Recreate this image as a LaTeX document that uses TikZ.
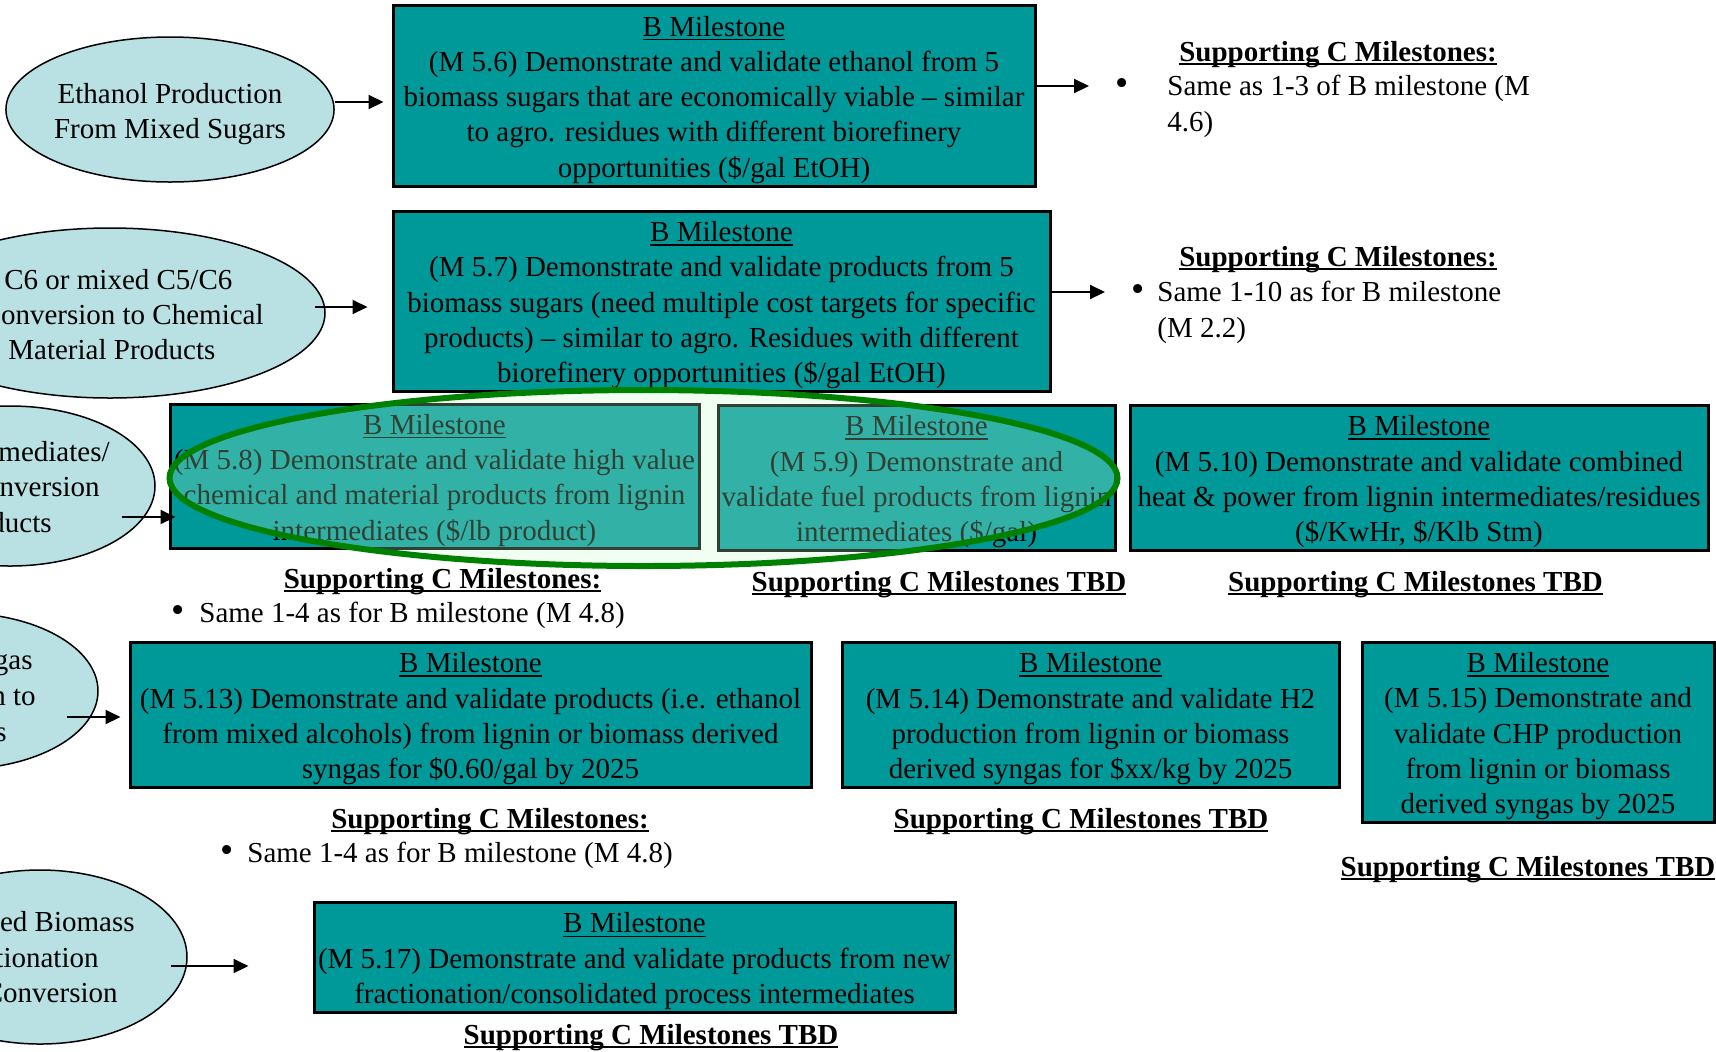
\documentclass[tikz,border=0pt]{standalone}
\usepackage{fontspec}
\setmainfont{Liberation Serif}
\usetikzlibrary{arrows.meta,shapes.geometric}
\definecolor{tealbox}{HTML}{009999}
\definecolor{ellfill}{HTML}{B9E0E3}
\definecolor{hlgreen}{HTML}{008000}
\definecolor{hlfill}{HTML}{C8FFD2}
\newsavebox\myulbox
\newcommand{\ulthin}[1]{\rule{0pt}{14.3pt}\sbox\myulbox{#1}\rlap{\rule[-2pt]{\wd\myulbox}{0.7pt}}\usebox\myulbox}
\newcommand{\ulbold}[1]{\sbox\myulbox{\bfseries #1}\rlap{\rule[-2.2pt]{\wd\myulbox}{1pt}}\usebox\myulbox}
\newcommand{\bigbul}{\scalebox{1.3}{\textbullet}}
\begin{document}
\begin{tikzpicture}[x=0.5pt,y=-0.5pt,
  every node/.style={font=\fontsize{14.5pt}{17.65pt}\selectfont, inner sep=0pt},
  mbox/.style={draw=black, line width=1.5pt, fill=tealbox, align=center, inner sep=0pt},
  ell/.style={ellipse, draw=black, line width=0.75pt, fill=ellfill, inner sep=0pt},
  arr/.style={-{Triangle[length=7.5pt,width=7pt]}, line width=1pt},
  frag/.style={anchor=base east},
  fragw/.style={anchor=base west},
  sup/.style={anchor=base}]
\useasboundingbox (0,0) rectangle (1716,1051);
\fill[white] (0,0) rectangle (1716,1051);
\clip (0,0) rectangle (1716,1051);

% ellipses
\node[ell, minimum width=161pt, minimum height=72.5pt, align=center] (e1) at (170,109.5) {\rule{0pt}{14.3pt}Ethanol Production\\From Mixed Sugars};
\node[ell, minimum width=215pt, minimum height=85pt] (e2) at (110,313) {};
\node[ell, minimum width=145pt, minimum height=80pt] (e3) at (10,486) {};
\node[ell, minimum width=138pt, minimum height=78pt] (e4) at (-40,691) {};
\node[ell, minimum width=147pt, minimum height=87pt] (e5) at (40,957) {};

\node[fragw] (e2a) at (4,289) {C6 or mixed C5/C6};
\node[frag] (e2b) at (264,324) {onversion to Chemical};
\node[fragw] (e2c) at (8,359) {Material Products};
\node[frag] (e3a) at (110,461) {rmediates/};
\node[frag] (e3b) at (100,496) {nversion};
\node[frag] (e3c) at (52,532) {ducts};
\node[frag] (e4a) at (33,669) {gas};
\node[frag] (e4b) at (36,705) {n to};
\node[frag] (e4c) at (7,741) {s};
\node[frag] (e5a) at (135,931) {ed Biomass};
\node[frag] (e5b) at (99,967) {tionation};
\node[frag] (e5c) at (118,1002) {Conversion};

% boxes
\node[mbox, minimum width=321pt, minimum height=90.5pt] (b1) at (714,95.5)
 {\ulthin{B Milestone}\\(M 5.6) Demonstrate and validate ethanol from 5\\biomass sugars that are economically viable – similar\\to agro. residues with different biorefinery\\opportunities (\$/gal EtOH)};
\node[mbox, minimum width=328.5pt, minimum height=90pt] (b2) at (721.5,301)
 {\ulthin{B Milestone}\\(M 5.7) Demonstrate and validate products from 5\\biomass sugars (need multiple cost targets for specific\\products) – similar to agro. Residues with different\\biorefinery opportunities (\$/gal EtOH)};
\node[mbox, minimum width=264.5pt, minimum height=72pt] (b3) at (434.5,476)
 {\ulthin{B Milestone}\\(M 5.8) Demonstrate and validate high value\\chemical and material products from lignin\\intermediates (\$/lb product)};
\node[mbox, minimum width=198.5pt, minimum height=72.5pt] (b4) at (916.5,477.5)
 {\ulthin{B Milestone}\\(M 5.9) Demonstrate and\\validate fuel products from lignin\\intermediates (\$/gal)};
\node[mbox, minimum width=289pt, minimum height=72.5pt] (b5) at (1419,477.5)
 {\ulthin{B Milestone}\\(M 5.10) Demonstrate and validate combined\\heat \& power from lignin intermediates/residues\\(\$/KwHr, \$/Klb Stm)};
\node[mbox, minimum width=340.5pt, minimum height=72.5pt] (b6) at (470.5,714.5)
 {\ulthin{B Milestone}\\(M 5.13) Demonstrate and validate products (i.e. ethanol\\from mixed alcohols) from lignin or biomass derived\\syngas for \$0.60/gal by 2025};
\node[mbox, minimum width=248.5pt, minimum height=72.5pt] (b7) at (1090.5,714.5)
 {\ulthin{B Milestone}\\(M 5.14) Demonstrate and validate H2\\production from lignin or biomass\\derived syngas for \$xx/kg by 2025};
\node[mbox, minimum width=176pt, minimum height=90pt] (b8) at (1538,732)
 {\ulthin{B Milestone}\\(M 5.15) Demonstrate and\\validate CHP production\\from lignin or biomass\\derived syngas by 2025};
\node[mbox, minimum width=320.5pt, minimum height=55pt] (b9) at (634.5,957)
 {\ulthin{B Milestone}\\(M 5.17) Demonstrate and validate products from new\\fractionation/consolidated process intermediates};

% supporting texts
\node[sup] (s1) at (1338,61) {\ulbold{Supporting C Milestones:}};
\node (s1b) at (1122,87) {\bigbul};
\node[fragw] (s1t) at (1167,95) {Same as 1-3 of B milestone (M};
\node[fragw] (s1u) at (1167,131) {4.6)};
\node[sup] (s2) at (1338,266) {\ulbold{Supporting C Milestones:}};
\node (s2b) at (1138,293) {\bigbul};
\node[fragw] (s2t) at (1157,301) {Same 1-10 as for B milestone};
\node[fragw] (s2u) at (1157,337) {(M 2.2)};
\node[sup] (s3) at (442.5,588) {\ulbold{Supporting C Milestones:}};
\node (s3b) at (178,614) {\bigbul};
\node[fragw] (s3t) at (199,622) {Same 1-4 as for B milestone (M 4.8)};
\node[sup] (t4) at (939,591) {\ulbold{Supporting C Milestones TBD}};
\node[sup] (t5) at (1415.5,591) {\ulbold{Supporting C Milestones TBD}};
\node[sup] (s6) at (490,828) {\ulbold{Supporting C Milestones:}};
\node (s6b) at (227,854) {\bigbul};
\node[fragw] (s6t) at (247,862) {Same 1-4 as for B milestone (M 4.8)};
\node[sup] (t7) at (1081,828) {\ulbold{Supporting C Milestones TBD}};
\node[sup] (t8) at (1528,876) {\ulbold{Supporting C Milestones TBD}};
\node[sup] (t9) at (651,1044) {\ulbold{Supporting C Milestones TBD}};

% highlight ellipse
\node[ellipse, draw=hlgreen, line width=3pt, fill=hlfill, fill opacity=0.25, minimum width=474pt, minimum height=88pt] (hl) at (643.5,478) {};

% arrows
\coordinate (c1) at (1089,86);
\coordinate (c2) at (1105,292);
\draw[arr] ([yshift=3.75pt]e1.east) -- ([xshift=-4pt,yshift=-3.25pt]b1.west);
\draw[arr] ([yshift=4.75pt]b1.east) -- (c1);
\draw[arr] ([xshift=-5.5pt,yshift=3pt]e2.east) -- ([xshift=-12pt,yshift=-3pt]b2.west);
\draw[arr] ([yshift=4.5pt]b2.east) -- (c2);
\draw[arr] ([xshift=-17pt,yshift=-15.5pt]e3.east) -- ([xshift=3.5pt,yshift=-20.5pt]b3.west);
\draw[arr] ([xshift=-16pt,yshift=-13pt]e4.east) -- ([xshift=-4pt,yshift=-1.25pt]b6.west);
\draw[arr] ([xshift=-8.5pt,yshift=-4.5pt]e5.east) -- ([xshift=-32pt,yshift=-4.5pt]b9.west);
\end{tikzpicture}
\end{document}
